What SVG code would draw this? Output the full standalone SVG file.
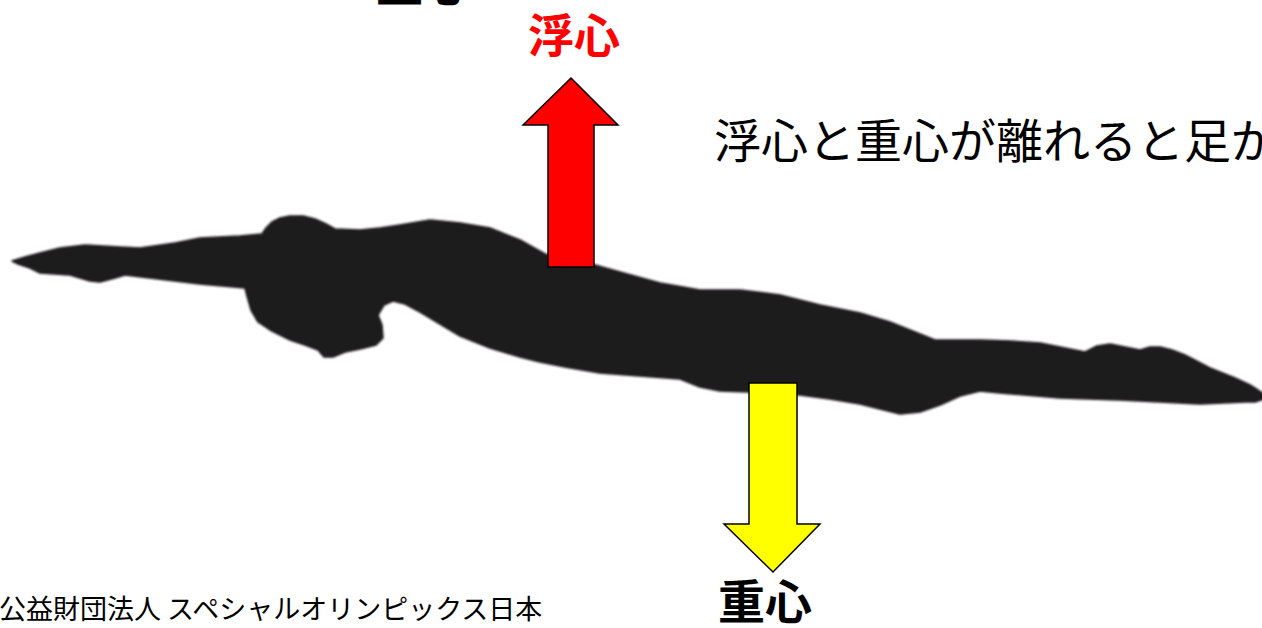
<svg xmlns="http://www.w3.org/2000/svg" width="1262" height="628" viewBox="0 0 1262 628">
  <style>
    .jp { font-family: "Noto Sans CJK JP", "Noto Sans CJK SC", sans-serif; }
    .bold { font-weight: bold; }
    .arrow { stroke: #000; stroke-width: 1.5; stroke-linejoin: miter; }
    .body { fill: #1b1a1b; stroke: #1b1a1b; stroke-width: 1.5; stroke-linejoin: round; }
  </style>
  <defs>
    <filter id="soft" x="-2%" y="-10%" width="104%" height="120%">
      <feGaussianBlur stdDeviation="0.8"/>
    </filter>
  </defs>
  <rect width="1262" height="628" fill="#ffffff"/>

  <!-- heading cut off by the top edge -->
  <text id="top-heading" class="jp bold" x="376" y="1" font-size="47" fill="#000">重心</text>

  <!-- swimmer silhouette, head to the left -->
  <g id="swimmer" filter="url(#soft)">
    <path class="body" d="M12,261 L25,257 L40,253 L60,248 L85,245 L120,247 L140,248 L175,243 L200,238 L240,236 L262,234
      L266,228 L272,222 L280,218 L290,216 L303,216 L315,219 L326,224 L335,229 L360,230 L380,228 L400,225 L430,220 L460,223 L490,228
      L520,240 L545,254 L570,262 L595,265 L620,272 L660,283 L700,290 L740,290 L780,295 L820,305 L860,313 L890,322
      L920,334 L935,340 L960,340 L980,340 L1010,341 L1040,343 L1070,349 L1085,352 L1097,346 L1110,344 L1125,347 L1140,350
      L1150,347 L1160,347 L1172,350 L1185,355 L1210,368 L1235,378 L1250,385 L1258,390 L1264,394 L1264,399
      L1255,402 L1245,402 L1200,404 L1160,402 L1120,400 L1060,398 L1000,393 L980,391 L960,396 L940,405 L920,412
      L900,414 L880,409 L860,404 L830,399 L800,395 L750,392 L720,391 L700,387 L680,379 L640,376 L600,373 L565,367
      L540,362 L520,357 L490,348 L460,336 L445,327 L420,312 L405,304 L393,301 L384,305 L378,315 L382,325 L383,338
      L376,345 L360,349 L345,352 L333,357 L324,357 L318,350 L305,345 L290,340 L270,330 L258,322 L251,310 L247,296
      L245,288 L200,284 L150,278 L125,275 L115,278 L100,282 L90,281 L70,275 L40,273 L30,268 L18,264 Z"/>
  </g>

  <!-- buoyancy: upward red arrow -->
  <g id="buoyancy">
    <polygon class="arrow" fill="#ff0000" points="571,78 618,125 594,125 594,267 548,267 548,125 523,125"/>
    <text class="jp bold" x="574" y="52" font-size="46" fill="#ff0000" text-anchor="middle">浮心</text>
  </g>

  <!-- gravity: downward yellow arrow -->
  <g id="gravity">
    <polygon class="arrow" fill="#ffff00" points="749,383 797,383 797,524 820,524 773,572 724,524 749,524"/>
    <text class="jp bold" x="765" y="619" font-size="47" fill="#000" text-anchor="middle">重心</text>
  </g>

  <!-- explanation -->
  <g id="caption">
    <text class="jp" x="714" y="158" font-size="47" fill="#000">浮心と重心が離れると足が</text>
  </g>

  <!-- credit line -->
  <g id="credit">
    <text class="jp" x="-1" y="619" font-size="27" fill="#000">公益財団法人 スペシャルオリンピックス日本</text>
  </g>

  <g id="connectors"/>
</svg>
